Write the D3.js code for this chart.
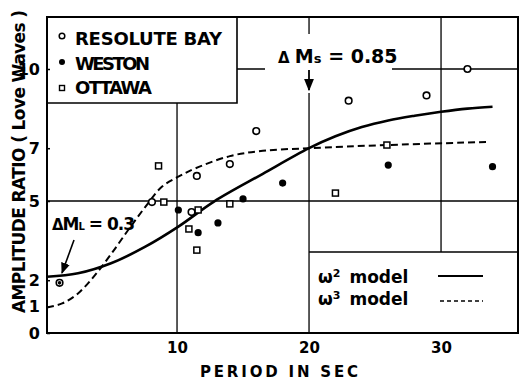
<!DOCTYPE html>
<html>
<head>
<meta charset="utf-8">
<script src="https://cdn.jsdelivr.net/npm/d3@7"></script>
<style>
  body { margin: 0; background: #fff; }
  svg { display: block; }
  text { font-family: "DejaVu Sans", sans-serif; font-weight: bold; fill: #000; }
</style>
</head>
<body>
<div id="chart"></div>
<script>
// ---------------------------- DATA ----------------------------//
// [period (s), amplitude ratio]
const resolute = [[1.1, 1.9], [8.1, 4.96], [11.1, 4.58], [11.5, 5.95], [14.0, 6.4],
  [16.0, 7.65], [23.0, 8.8], [28.9, 9.0], [32.0, 10.0]];
const weston = [[10.1, 4.66], [11.6, 3.8], [13.1, 4.17], [15.0, 5.08], [18.0, 5.68],
  [26.0, 6.36], [33.9, 6.3]];
const ottawa = [[8.6, 6.33], [9.0, 4.96], [10.9, 3.94], [11.5, 3.14], [11.6, 4.66],
  [14.0, 4.89], [22.0, 5.3], [25.9, 7.12]];
const coincident = [[1.1, 1.9]];
const omega2 = [[0.15, 2.13], [2.5, 2.26], [5, 2.64], [7.6, 3.27], [10.1, 4.03], [12.8, 4.98],
  [16.5, 6.03], [20, 7.0], [22, 7.45], [24, 7.8], [26, 8.05], [28, 8.23], [30, 8.38],
  [32, 8.5], [33.9, 8.57]];
const omega3 = [[0.15, 0.97], [1.3, 1.12], [2.5, 1.5], [3.8, 2.2], [5.05, 3.02], [6.3, 3.9],
  [7.6, 4.78], [8.85, 5.54], [10.1, 5.92], [11.4, 6.24], [14, 6.7], [16.5, 6.9], [20, 7.0],
  [25.9, 7.12], [33.6, 7.24]];
const yTicks = [0, 1, 2, 5, 7, 10];
const xTicks = [10, 20, 30];

// --------------------------- LAYOUT ---------------------------//
const width = 519, height = 381;
const plotLeft = 47, plotRight = 518, plotTop = 17, plotBottom = 333;

const svg = d3.select("#chart").append("svg")
  .attr("width", width)
  .attr("height", height);

const xScale = d3.scaleLinear().domain([0.15, 35.83]).range([plotLeft, plotRight]);
const yScale = d3.scaleLinear().domain([0, 12]).range([plotBottom, 16.2]);

// ---------------------------- GRID ----------------------------//
const grid = svg.append("g").attr("stroke", "#000").attr("stroke-width", 1.3);
const hline = (y, x1, x2) => grid.append("line").attr("x1", x1).attr("x2", x2).attr("y1", y).attr("y2", y);
const vline = (x, y1, y2) => grid.append("line").attr("x1", x).attr("x2", x).attr("y1", y1).attr("y2", y2);

const legendBottom = 103, legendRight = 237, boxTop = 252;
hline(yScale(5), plotLeft, plotRight);
hline(yScale(10), legendRight, plotRight);
vline(xScale(10), legendBottom, plotBottom);
vline(xScale(20), plotTop, plotBottom);
vline(xScale(30), plotTop, boxTop);
hline(boxTop, xScale(20), plotRight);

// white gap behind the ΔMs note
svg.append("rect").attr("x", 265).attr("y", 34).attr("width", 127).attr("height", 59).attr("fill", "#fff");

// legend box (top-left)
svg.append("path")
  .attr("d", `M${plotLeft},${legendBottom}H${legendRight}V${plotTop}`)
  .attr("fill", "none").attr("stroke", "#000").attr("stroke-width", 1.6);

// ---------------------------- AXES ----------------------------//
const yaxis = d3.axisLeft(yScale).tickValues(yTicks).tickSize(-3).tickPadding(7).tickFormat(d3.format("d"));
const ya = svg.append("g").attr("transform", "translate(" + plotLeft + ",0)").call(yaxis);
ya.select(".domain").remove();
ya.selectAll("line").attr("stroke-width", 1.5);
ya.selectAll("text").style("font-size", "16px").attr("font-family", null).style("font-weight", "bold");

const xaxis = d3.axisBottom(xScale).tickValues(xTicks).tickSize(0).tickPadding(9);
const xa = svg.append("g").attr("transform", "translate(0," + plotBottom + ")").call(xaxis);
xa.select(".domain").remove();
xa.selectAll("text").style("font-size", "15px").attr("font-family", null).style("font-weight", "bold");

// frame
svg.append("rect")
  .attr("x", plotLeft).attr("y", plotTop)
  .attr("width", plotRight - plotLeft).attr("height", plotBottom - plotTop)
  .attr("fill", "none").attr("stroke", "#000").attr("stroke-width", 2);

// axis titles
svg.append("text")
  .attr("transform", "translate(25,313) rotate(-90)")
  .attr("textLength", 303).attr("lengthAdjust", "spacing")
  .style("font-size", "17px")
  .text("AMPLITUDE  RATIO  ( Love Waves )");

svg.append("text")
  .attr("x", 200).attr("y", 377)
  .attr("textLength", 158).attr("lengthAdjust", "spacing")
  .style("font-size", "15px")
  .text("PERIOD  IN  SEC");

// ---------------------------- CURVES ----------------------------//
const line = d3.line()
  .x(d => xScale(d[0]))
  .y(d => yScale(d[1]))
  .curve(d3.curveCatmullRom.alpha(0.5));

svg.append("path").datum(omega2)
  .attr("fill", "none").attr("stroke", "#000").attr("stroke-width", 2.6)
  .attr("d", line);

svg.append("path").datum(omega3)
  .attr("fill", "none").attr("stroke", "#000").attr("stroke-width", 2)
  .attr("stroke-dasharray", "7,4")
  .attr("d", line);

// ---------------------------- POINTS ----------------------------//
svg.append("g").selectAll("circle").data(resolute).enter().append("circle")
  .attr("cx", d => xScale(d[0])).attr("cy", d => yScale(d[1])).attr("r", 3.3)
  .attr("fill", "#fff").attr("stroke", "#000").attr("stroke-width", 1.6);

svg.append("g").selectAll("circle").data(weston).enter().append("circle")
  .attr("cx", d => xScale(d[0])).attr("cy", d => yScale(d[1])).attr("r", 3.6)
  .attr("fill", "#000");

svg.append("g").selectAll("rect").data(ottawa).enter().append("rect")
  .attr("x", d => xScale(d[0]) - 3).attr("y", d => yScale(d[1]) - 3)
  .attr("width", 6).attr("height", 6)
  .attr("fill", "#fff").attr("stroke", "#000").attr("stroke-width", 1.5);

svg.append("g").selectAll("circle").data(coincident).enter().append("circle")
  .attr("cx", d => xScale(d[0])).attr("cy", d => yScale(d[1])).attr("r", 1.8)
  .attr("fill", "#000");

// ---------------------------- LEGENDS ----------------------------//
svg.append("circle").attr("cx", 62).attr("cy", 36).attr("r", 2.8)
  .attr("fill", "#fff").attr("stroke", "#000").attr("stroke-width", 1.5);
svg.append("circle").attr("cx", 62).attr("cy", 62).attr("r", 3).attr("fill", "#000");
svg.append("rect").attr("x", 59.5).attr("y", 85.5).attr("width", 5).attr("height", 5)
  .attr("fill", "#fff").attr("stroke", "#000").attr("stroke-width", 1.4);

const names = [["RESOLUTE  BAY", 45, 147], ["WESTON", 70, 75], ["OTTAWA", 94, 77]];
names.forEach(function (n) {
  svg.append("text").attr("x", 75).attr("y", n[1])
    .attr("textLength", n[2]).attr("lengthAdjust", "spacing")
    .style("font-size", "18px").text(n[0]);
});

const m2 = svg.append("text").attr("x", 318).attr("y", 283).style("font-size", "17px");
m2.append("tspan").text("ω");
m2.append("tspan").attr("dy", -6).style("font-size", "11px").text("2");
m2.append("tspan").attr("dy", 6).attr("dx", 9).text("model");
const m3 = svg.append("text").attr("x", 318).attr("y", 305).style("font-size", "17px");
m3.append("tspan").text("ω");
m3.append("tspan").attr("dy", -6).style("font-size", "11px").text("3");
m3.append("tspan").attr("dy", 6).attr("dx", 9).text("model");

svg.append("line").attr("x1", 438).attr("x2", 483).attr("y1", 276).attr("y2", 276)
  .attr("stroke", "#000").attr("stroke-width", 1.8);
svg.append("line").attr("x1", 440).attr("x2", 483).attr("y1", 301).attr("y2", 301)
  .attr("stroke", "#000").attr("stroke-width", 1.6).attr("stroke-dasharray", "4,3");

// ---------------------------- NOTES ----------------------------//
const ms = svg.append("text").attr("x", 278).attr("y", 63).style("font-size", "19px");
ms.append("tspan").style("font-size", "15px").text("Δ ");
ms.append("tspan").text("M");
ms.append("tspan").style("font-size", "13px").text("s");
ms.append("tspan").text(" = 0.85");

const ml = svg.append("text").attr("x", 52).attr("y", 230)
  .attr("textLength", 83).attr("lengthAdjust", "spacing").style("font-size", "17px");
ml.append("tspan").style("font-size", "15px").text("Δ");
ml.append("tspan").text("M");
ml.append("tspan").style("font-size", "10px").text("L");
ml.append("tspan").text(" = 0.3");

svg.append("defs").append("marker")
  .attr("id", "arrow").attr("viewBox", "0 0 10 10").attr("refX", 9).attr("refY", 5)
  .attr("markerWidth", 7).attr("markerHeight", 7).attr("orient", "auto")
  .append("path").attr("d", "M0,1L10,5L0,9Z").attr("fill", "#000");

svg.append("line").attr("x1", 309).attr("x2", 309).attr("y1", 70).attr("y2", 90)
  .attr("stroke", "#000").attr("stroke-width", 1.8).attr("marker-end", "url(#arrow)");
svg.append("line").attr("x1", 74).attr("x2", 62).attr("y1", 240).attr("y2", 273)
  .attr("stroke", "#000").attr("stroke-width", 1.6).attr("marker-end", "url(#arrow)");
</script>
</body>
</html>
